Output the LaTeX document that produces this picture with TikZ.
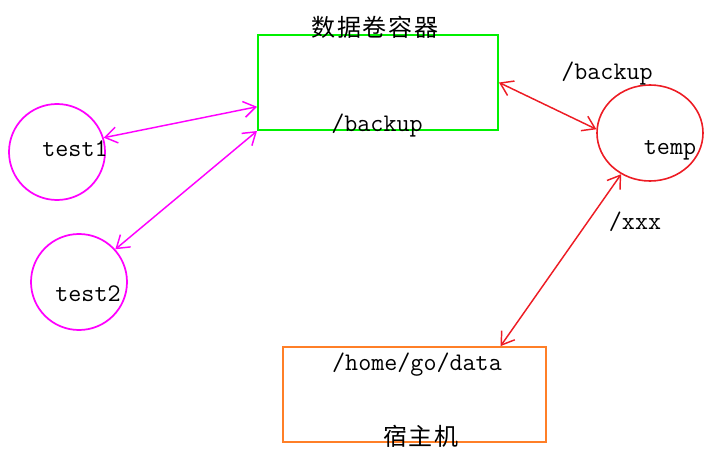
\documentclass[tikz,border=0pt]{standalone}
\usepackage{fontspec}
\newfontfamily\cjk[LetterSpace=8]{Noto Sans CJK SC}
\usetikzlibrary{arrows.meta, shapes.geometric, calc, positioning}
\definecolor{volgreen}{RGB}{0,240,0}
\definecolor{pinkline}{RGB}{255,0,255}
\definecolor{redline}{RGB}{237,28,36}
\definecolor{hostorange}{RGB}{255,127,39}

\begin{document}
\begin{tikzpicture}[x=0.75pt, y=-0.75pt,
    lbl/.style={font=\ttfamily\fontsize{19}{21}\selectfont, inner sep=0pt},
    han/.style={font=\cjk\fontsize{18}{20}\selectfont, inner sep=0pt},
    link/.style={{Straight Barb[length=9pt, width=12pt]}-{Straight Barb[length=9pt, width=12pt]}, line width=1.1pt}]
        \useasboundingbox (0,0) rectangle (710,463);

        \node[draw=volgreen, line width=1.5pt, inner sep=0pt, minimum width=180pt, minimum height=71.25pt] (vol) at (378,82.5) {};
        \node[draw=hostorange, line width=1.3pt, inner sep=0pt, minimum width=197.25pt, minimum height=71.25pt] (host) at (414.5,394.5) {};
        \node[circle, draw=pinkline, line width=1.3pt, inner sep=0pt, minimum size=72pt] (test1) at (57,152) {};
        \node[circle, draw=pinkline, line width=1.3pt, inner sep=0pt, minimum size=72pt] (test2) at (79,282) {};
        \node[ellipse, draw=redline, line width=1.2pt, inner sep=0pt, minimum width=79.5pt, minimum height=72pt] (temp) at (650,133) {};

        \node[han] (voltitle) at (375,27.5) {数据卷容器};
        \node[lbl] (volpath) at (377,126) {/backup};
        \node[lbl] (t1) at (75,149) {test1};
        \node[lbl] (t2) at (88,293.5) {test2};
        \node[lbl] (tname) at (670,150) {temp};
        \node[lbl] (mnt) at (607,74) {/backup};
        \node[lbl] (xxx) at (635,221.5) {/xxx};
        \node[lbl] (hostpath) at (417,365) {/home/go/data};
        \node[han] (hostname) at (421,436) {宿主机};

        \draw[link, pinkline] (test1.17) -- ($(vol.south west)!0.25!(vol.north west)$);
        \draw[link, pinkline] (test2.42) -- (vol.south west);
        \draw[link, redline] (vol.east) -- (temp.176);
        \draw[link, redline] (temp.235) -- ($(host.north west)!0.825!(host.north east)$);

      \end{tikzpicture}
\end{document}
